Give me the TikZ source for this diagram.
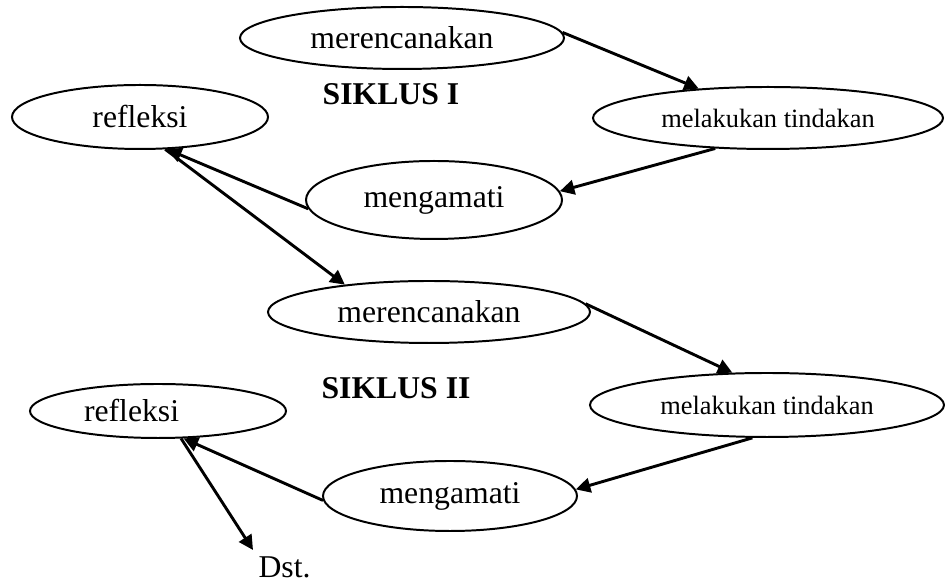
\documentclass[tikz,border=0pt]{standalone}
\usepackage{fontspec}
\setmainfont{Liberation Serif}
\usetikzlibrary{shapes.geometric,arrows.meta}
\begin{document}
\begin{tikzpicture}[x=0.3785pt,y=-0.3785pt,
  oval/.style={ellipse,draw,line width=0.75pt,inner sep=0pt,font=\fontsize{12}{14}\selectfont},
  smalloval/.style={oval,font=\fontsize{10}{12}\selectfont},
  title/.style={font=\fontsize{12}{14}\selectfont\bfseries,inner sep=0pt},
  arr/.style={line width=1.1pt,-{Triangle[length=5.5pt,width=5.5pt]}}]
\useasboundingbox (0,0) rectangle (945,584);
\node[oval,minimum width=324*0.3785pt,minimum height=62*0.3785pt] (p1) at (402,38) {merencanakan};
\node[oval,minimum width=256*0.3785pt,minimum height=64*0.3785pt] (r1) at (140,117) {refleksi};
\node[smalloval,minimum width=350*0.3785pt,minimum height=62*0.3785pt] (m1) at (768,118) {melakukan tindakan};
\node[oval,minimum width=256*0.3785pt,minimum height=78*0.3785pt] (g1) at (434,200) {mengamati};
\node[title] (s1) at (391,94) {SIKLUS I};
\node[oval,minimum width=322*0.3785pt,minimum height=62*0.3785pt] (p2) at (429,312) {merencanakan};
\node[title] (s2) at (396,388) {SIKLUS II};
\node[oval,minimum width=256*0.3785pt,minimum height=54*0.3785pt] (r2) at (158,411) {\hspace*{-20pt}refleksi};
\node[smalloval,minimum width=354*0.3785pt,minimum height=64*0.3785pt] (m2) at (767,405) {melakukan tindakan};
\node[oval,minimum width=254*0.3785pt,minimum height=70*0.3785pt] (g2) at (450,496) {mengamati};
\node[anchor=base west,inner sep=0pt,font=\fontsize{12}{14}\selectfont] (dst) at (258,578) {Dst.};
\coordinate (dstend) at (253,550);
\draw[arr] (p1.2) -- (m1.157);
\draw[arr] (m1.-150) -- (g1.4);
\draw[arr] (g1.184) -- (r1.-50);
\draw[arr] (r1.-52) -- (p2.162);
\draw[arr] (p2.3) -- (m2.137);
\draw[arr] (m2.-114) -- (g2.3);
\draw[arr] (g2.182) -- (r2.-47);
\draw[arr] (r2.-50) -- (dstend);
\end{tikzpicture}
\end{document}
